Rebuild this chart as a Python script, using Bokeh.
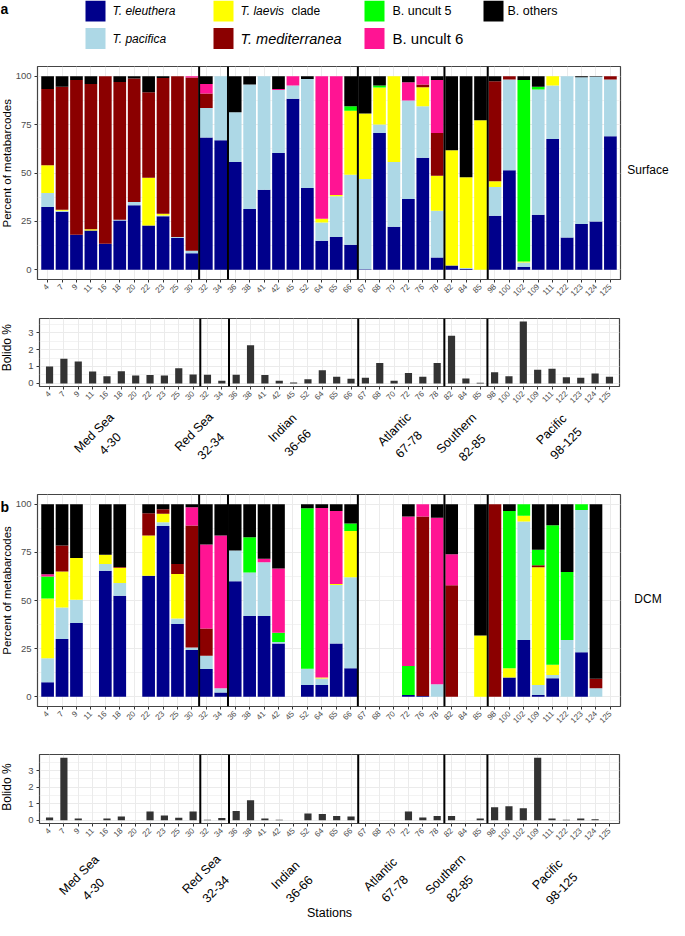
import math
from bokeh.plotting import figure
from bokeh.models import ColumnDataSource, FactorRange, Range1d, FixedTicker, Span
from bokeh.layouts import column, row
from bokeh.embed import file_html
from bokeh.resources import INLINE
from bokeh.core.properties import value

# ---------------------------------------------------------------- data
stations = ["4", "7", "9", "11", "16", "18", "20", "22", "23", "25", "30",
            "32", "34",
            "36", "38", "41", "42", "45", "52", "64", "65", "66",
            "67", "68", "70", "72", "76", "78",
            "82", "84", "85",
            "98", "100", "102", "109", "111", "122", "123", "124", "125"]

region_names = ["Med Sea", "Red Sea", "Indian", "Atlantic", "Southern", "Pacific"]
region_ranges = ["4-30", "32-34", "36-66", "67-78", "82-85", "98-125"]
region_sizes = [11, 2, 9, 6, 3, 9]

taxa = ["T. eleuthera", "T. pacifica", "T. laevis clade", "T. mediterranea",
        "B. uncult 5", "B. uncult 6", "B. others"]
taxa_keys = ["eleuthera", "pacifica", "laevis", "mediterranea", "uncult5", "uncult6", "others"]
taxa_colors = ["#00008B", "#ADD8E6", "#FFFF00", "#8B0000", "#00FF00", "#FF1493", "#000000"]

# Surface, percent of metabarcodes
surf_eleuthera = [32.4, 30, 18.1, 20.3, 13.4, 25.5, 33.3, 22.9, 27.6, 16.5, 8.6,
                  68.3, 66.9,
                  55.7, 31.4, 41.4, 60.3, 88.3, 42.2, 15, 16.9, 12.9,
                  0.3, 70.7, 22.2, 36.6, 57.9, 6.4,
                  2.2, 0.5, 0,
                  27.9, 51.4, 1.4, 28.4, 67.6, 16.7, 23.6, 25, 69]
surf_pacifica = [7.3, 0.5, 0, 0, 0, 0.4, 1.7, 0, 0.5, 0.4, 1.2,
                 15.3, 33.1,
                 25.7, 64.3, 58.6, 32.5, 6.9, 56.4, 9.5, 21.1, 36.2,
                 46.6, 4.3, 33.5, 50.8, 26.6, 24.1,
                 0, 0.4, 0,
                 14.9, 46.9, 2.4, 64.7, 27.6, 83.3, 75.9, 74.7, 29.3]
surf_laevis = [14.3, 0.5, 0, 0.7, 0, 0, 0, 24.7, 0.9, 0, 0,
               0, 0,
               0, 0, 0, 0, 0, 0, 1.9, 0.6, 33.1,
               33.8, 19.1, 44.3, 0, 9.8, 18.1,
               59.5, 46.9, 77.2,
               2.9, 0, 0.5, 0, 4.8, 0, 0, 0, 0]
surf_mediterranea = [39.4, 63.5, 79.9, 75, 86.6, 71.1, 63.8, 44.1, 70, 83.1, 89.5,
                     7.4, 0,
                     0, 0, 0, 0, 0, 0, 0, 0, 0,
                     0, 0, 0, 0, 1.4, 22.1,
                     0, 0, 0,
                     51.7, 1.7, 0, 0, 0, 0, 0, 0, 1.7]
surf_uncult5 = [0, 0, 0, 0, 0, 0, 0, 0, 0, 0, 0,
                0, 0,
                0, 0, 0, 0, 0, 0, 0, 0, 2.3,
                0, 1.1, 0, 0, 0, 0,
                0, 0, 0,
                0, 0, 93.7, 1.4, 0, 0, 0, 0, 0]
surf_uncult6 = [0, 0, 0, 0, 0, 0, 0, 0, 0, 0, 0.7,
                5, 0,
                0, 0, 0, 0.6, 4.8, 0, 73.6, 61.4, 0,
                0, 0, 0, 9.5, 4.3, 27.3,
                0, 0, 0,
                0, 0, 0, 0, 0, 0, 0, 0, 0]
surf_others = [6.6, 5.5, 2, 4, 0, 3, 1.2, 8.3, 1, 0, 0,
               4, 0,
               18.6, 4.3, 0, 6.6, 0, 1.4, 0, 0, 15.5,
               19.3, 4.8, 0, 3.1, 0, 2,
               38.3, 52.2, 22.8,
               2.6, 0, 2, 5.5, 0, 0, 0.5, 0.3, 0]

# DCM, percent of metabarcodes (None = station not sampled)
N = None
dcm_eleuthera = [7.6, 30, 38.3, N, 65.5, 52.5, N, 62.9, 88.7, 37.8, 24.3,
                 14.4, 2.3,
                 60, 41.9, 41.9, 27.7, N, 6.2, 6.2, 27.7, 14.9,
                 N, N, N, 1, 0.5, 0,
                 0, N, 0,
                 0, 10, 29.5, 1, 9.7, 0, 23.2, 0, N]
dcm_pacifica = [12.5, 16.4, 12.1, N, 3.5, 6.6, N, 0, 1.9, 2.9, 1.3,
                6.9, 2.2,
                16, 22.6, 27.9, 0.8, N, 8.4, 3.3, 30.3, 47.1,
                N, N, N, 0, 0, 6.6,
                0, N, 0,
                0, 0, 61.5, 5.2, 1.7, 29.5, 73.8, 4.5, N]
dcm_laevis = [30.9, 18.6, 21.7, N, 4.8, 7.9, N, 20.8, 4.4, 23.1, 0,
              0, 0,
              0, 0, 0, 0, N, 0, 0.5, 0.6, 24,
              N, N, N, 0, 0, 0,
              0, N, 31.9,
              0, 4.9, 3, 61, 5.2, 0, 0, 0, N]
dcm_mediterranea = [0, 13.5, 0, N, 0, 0.4, N, 11.6, 2.4, 5.2, 63.3,
                    14.2, 0,
                    0, 0, 0, 0, N, 0, 0, 0, 0,
                    N, N, N, 0, 93.1, 0,
                    57.9, N, 0,
                    100, 0, 0, 1.1, 0, 0, 0, 4.9, N]
dcm_uncult5 = [11.4, 0, 0, N, 0, 0, N, 0, 0, 0, 0,
               0, 0,
               0, 18.3, 0, 4.8, N, 83.3, 0, 0, 4,
               N, N, N, 15, 0, 0,
               0, N, 0,
               0, 81.5, 6, 8, 72.4, 35.3, 3, 0, N]
dcm_uncult6 = [1.2, 0, 0, N, 0, 0, N, 0, 0, 0, 9.5,
               43.5, 79.2,
               0, 0, 1.8, 33.3, N, 0, 88, 37.8, 0,
               N, N, N, 77.6, 6.4, 86.3,
               16.1, N, 0,
               0, 0, 0, 0, 0, 0, 0, 0, N]
dcm_others = [36.4, 21.5, 27.9, N, 26.2, 32.6, N, 4.7, 2.6, 31, 1.6,
              21, 16.3,
              24, 17.2, 28.4, 33.4, N, 2.1, 2, 3.6, 10,
              N, N, N, 6.4, 0, 7.1,
              26, N, 68.1,
              0, 3.6, 0, 23.7, 11, 35.2, 0, 90.6, N]

# Bolido percent
surf_bolido = [1.0, 1.46, 1.29, 0.7, 0.43, 0.72, 0.47, 0.49, 0.47, 0.9, 0.53,
               0.51, 0.16,
               0.51, 2.26, 0.49, 0.16, 0.06, 0.25, 0.78, 0.39, 0.27,
               0.33, 1.21, 0.16, 0.62, 0.39, 1.21,
               2.81, 0.29, 0.04,
               0.66, 0.43, 3.65, 0.8, 0.86, 0.37, 0.33, 0.58, 0.39]
dcm_bolido = [0.18, 3.79, 0.12, N, 0.12, 0.24, N, 0.53, 0.3, 0.16, 0.53,
              0.04, 0.14,
              0.57, 1.22, 0.12, 0.04, N, 0.41, 0.39, 0.26, 0.24,
              N, N, N, 0.53, 0.18, 0.26,
              0.26, N, 0.12,
              0.79, 0.85, 0.73, 3.79, 0.12, 0.04, 0.12, 0.06, N]

surf_series = [surf_eleuthera, surf_pacifica, surf_laevis, surf_mediterranea,
               surf_uncult5, surf_uncult6, surf_others]
dcm_series = [dcm_eleuthera, dcm_pacifica, dcm_laevis, dcm_mediterranea,
              dcm_uncult5, dcm_uncult6, dcm_others]

# ---------------------------------------------------------------- layout / style
W = 669
NST = len(stations)
PAD = 0.2
FONT = "Liberation Sans"
TICK_COL = "#4D4D4D"
GRID_COL = "#EBEBEB"
BORDER_COL = "#444444"
LEFT_W = 12          # column holding the rotated y titles
RIGHT_W = 47         # column holding the facet strip text
PANEL_W = W - LEFT_W - RIGHT_W
VT = math.pi / 2
DG = math.pi / 4

bounds = []
acc = 0
for s in region_sizes[:-1]:
    acc += s
    bounds.append(acc)


def stacked_source(series):
    keep = [i for i in range(NST) if series[0][i] is not None]
    d = {"station": [stations[i] for i in keep]}
    for k, arr in zip(taxa_keys, series):
        d[k] = [arr[i] for i in keep]
    return ColumnDataSource(d)


def bolido_source(vals):
    keep = [i for i in range(NST) if vals[i] is not None]
    return ColumnDataSource(dict(station=[stations[i] for i in keep],
                                 bolido=[vals[i] for i in keep]))


def make_panel(height, top, frame_h, left_b, right_b, yr, yticks, yminor):
    p = figure(width=PANEL_W, height=height,
               x_range=FactorRange(factors=stations, range_padding=PAD,
                                   range_padding_units="absolute"),
               y_range=Range1d(yr[0], yr[1]),
               output_backend="svg", toolbar_location=None, title=None,
               min_border_left=left_b, min_border_right=right_b,
               min_border_top=top, min_border_bottom=height - top - frame_h)
    p.background_fill_color = "white"
    p.border_fill_color = "white"
    p.outline_line_color = BORDER_COL
    p.outline_line_width = 1.2
    tk = FixedTicker(ticks=yticks, minor_ticks=yminor)
    p.yaxis.ticker = tk
    p.ygrid.ticker = tk
    for ax in (p.xaxis, p.yaxis):
        ax.axis_line_color = None
        ax.major_tick_line_color = "#333333"
        ax.major_tick_out = 3
        ax.major_tick_in = 0
        ax.minor_tick_line_color = None
        ax.major_label_text_color = TICK_COL
        ax.major_label_text_font = FONT
    p.yaxis.major_label_text_font_size = "9.5px"
    p.yaxis.major_label_standoff = 2
    p.xaxis.major_label_text_font_size = "8px"
    p.xaxis.major_label_orientation = DG
    p.xaxis.major_label_standoff = 3
    p.xgrid.grid_line_color = GRID_COL
    p.ygrid.grid_line_color = GRID_COL
    p.ygrid.minor_grid_line_color = GRID_COL
    p.ygrid.minor_grid_line_width = 0.6
    for b in bounds:
        p.add_layout(Span(location=b, dimension="height", line_color="black", line_width=2))
    return p


def text_fig(w, h):
    f = figure(width=w, height=h, x_range=Range1d(0, w), y_range=Range1d(0, h),
               x_axis_type=None, y_axis_type=None, output_backend="svg",
               toolbar_location=None, title=None, min_border=0)
    f.outline_line_color = None
    f.background_fill_color = "white"
    f.border_fill_color = "white"
    f._h = h
    return f


def put(f, x, y, text, size, angle=0.0, align="center", baseline="middle",
        style="normal"):
    # x, y in pixels from the figure's top-left corner
    f.text(x=[x], y=[f._h - y], text=[text], angle=angle,
           text_font=value(FONT), text_font_size=value(size),
           text_font_style=value(style), text_align=value(align),
           text_baseline=value(baseline), text_color=value("black"))


# ---------------------------------------------------------------- legend
LEG_H = 58
leg = text_fig(W, LEG_H)
leg_col_x = [85, 213, 364, 483]
leg_text_x = [112, 240, 392, 507]
leg_row_y = [10.5, 38]
leg_sizes = ["12px", "12px", "12px", "14.5px", "12.5px", "15px", "12.5px"]
leg_italic = ["T. eleuthera", "T. pacifica", "T. laevis", "T. mediterranea", "", "", ""]
leg_plain = ["", "", "clade", "", "B. uncult 5", "B. uncult 6", "B. others"]
leg_plain_dx = [0, 0, 51, 0, 0, 0, 0]
for k in range(len(taxa)):
    c, r = k // 2, k % 2
    leg.rect(x=[leg_col_x[c] + 10], y=[LEG_H - leg_row_y[r]], width=20, height=21,
             fill_color=taxa_colors[k], line_color=None)
    if leg_italic[k]:
        put(leg, leg_text_x[c], leg_row_y[r], leg_italic[k], leg_sizes[k],
            align="left", style="italic")
    if leg_plain[k]:
        put(leg, leg_text_x[c] + leg_plain_dx[k], leg_row_y[r], leg_plain[k],
            leg_sizes[k], align="left")
put(leg, 0, 0, "a", "14px", align="left", baseline="top", style="bold")

# ---------------------------------------------------------------- panels
pct_ticks = [0, 25, 50, 75, 100]
pct_minor = [12.5, 37.5, 62.5, 87.5]
pct_range = (-5, 105)


def bol_range(vals):
    m = max(v for v in vals if v is not None)
    return (-0.05 * m, m * 1.05)


bol_ticks = [0, 1, 2, 3]
bol_minor = [0.5, 1.5, 2.5, 3.5]

# Surface composition row
SH = 252
fs = make_panel(SH, 8, 213, 35 - LEFT_W, PANEL_W + LEFT_W - 620, pct_range, pct_ticks, pct_minor)
fs.vbar_stack(taxa_keys, x="station", width=0.88, fill_color=taxa_colors,
              line_color=None, source=stacked_source(surf_series))
fs_l = text_fig(LEFT_W, SH)
put(fs_l, 6, 114.5, "Percent of metabarcodes", "11.5px", angle=VT)
fs_r = text_fig(RIGHT_W, SH)
put(fs_r, 25.5, 122, "Surface", "12px")

# Surface bolido row
BH = 98
fsb = make_panel(BH, 8, 68, 39 - LEFT_W, PANEL_W + LEFT_W - 619,
                 bol_range(surf_bolido), bol_ticks, bol_minor)
fsb.vbar(x="station", top="bolido", width=0.5, fill_color="#333333", line_color=None,
         source=bolido_source(surf_bolido))
fsb_l = text_fig(LEFT_W, BH)
put(fsb_l, 6, 42, "Bolido %", "12px", angle=VT)
fsb_r = text_fig(RIGHT_W, BH)

# Surface region labels: centres of line 1 (name) and line 2 (stations), px
R1H = 78
reg1 = text_fig(W, R1H)
surf_name_xy = [(93.7, 24.5), (193.5, 23.5), (282, 19.5), (394, 21), (456, 25), (551, 21)]
surf_range_xy = [(109.3, 35), (210.2, 37.5), (297, 34), (408, 35.7), (471.3, 39), (565.3, 34.7)]
for (ax_, ay_), (bx_, by_), nm, rg in zip(surf_name_xy, surf_range_xy, region_names, region_ranges):
    put(reg1, ax_, ay_, nm, "12.5px", angle=DG)
    put(reg1, bx_, by_, rg, "12.5px", angle=DG)

# DCM composition row
DH = 252
fd = make_panel(DH, 8, 212, 35 - LEFT_W, PANEL_W + LEFT_W - 620, pct_range, pct_ticks, pct_minor)
fd.vbar_stack(taxa_keys, x="station", width=0.88, fill_color=taxa_colors,
              line_color=None, source=stacked_source(dcm_series))
fd_l = text_fig(LEFT_W, DH)
put(fd_l, 6, 114, "Percent of metabarcodes", "11.5px", angle=VT)
put(fd_l, 0, 15, "b", "14px", align="left", style="bold")
fd_r = text_fig(RIGHT_W, DH)
put(fd_r, 25.5, 124, "DCM", "12px")

# DCM bolido row
DBH = 107
fdb = make_panel(DBH, 16, 69, 39 - LEFT_W, PANEL_W + LEFT_W - 619,
                 bol_range(dcm_bolido), bol_ticks, bol_minor)
fdb.vbar(x="station", top="bolido", width=0.5, fill_color="#333333", line_color=None,
         source=bolido_source(dcm_bolido))
fdb_l = text_fig(LEFT_W, DBH)
put(fdb_l, 6, 50.5, "Bolido %", "12px", angle=VT)
fdb_r = text_fig(RIGHT_W, DBH)

# DCM region labels + x title
R2H = 75
reg2 = text_fig(W, R2H)
dcm_name_xy = [(78.7, 29.7), (201, 28.7), (285, 29.7), (380, 29), (445, 29), (547, 29)]
dcm_range_xy = [(92.7, 43.5), (215, 43.5), (298.7, 43.5), (394, 43), (459, 43), (561, 43)]
for (ax_, ay_), (bx_, by_), nm, rg in zip(dcm_name_xy, dcm_range_xy, region_names, region_ranges):
    put(reg2, ax_, ay_, nm, "12.5px", angle=DG)
    put(reg2, bx_, by_, rg, "12.5px", angle=DG)
put(reg2, 329, 67, "Stations", "12.5px")

layout = column(
    leg,
    row(fs_l, fs, fs_r, spacing=0),
    row(fsb_l, fsb, fsb_r, spacing=0),
    reg1,
    row(fd_l, fd, fd_r, spacing=0),
    row(fdb_l, fdb, fdb_r, spacing=0),
    reg2,
    spacing=0,
)
open("out.html", "w").write(file_html(layout, INLINE))
